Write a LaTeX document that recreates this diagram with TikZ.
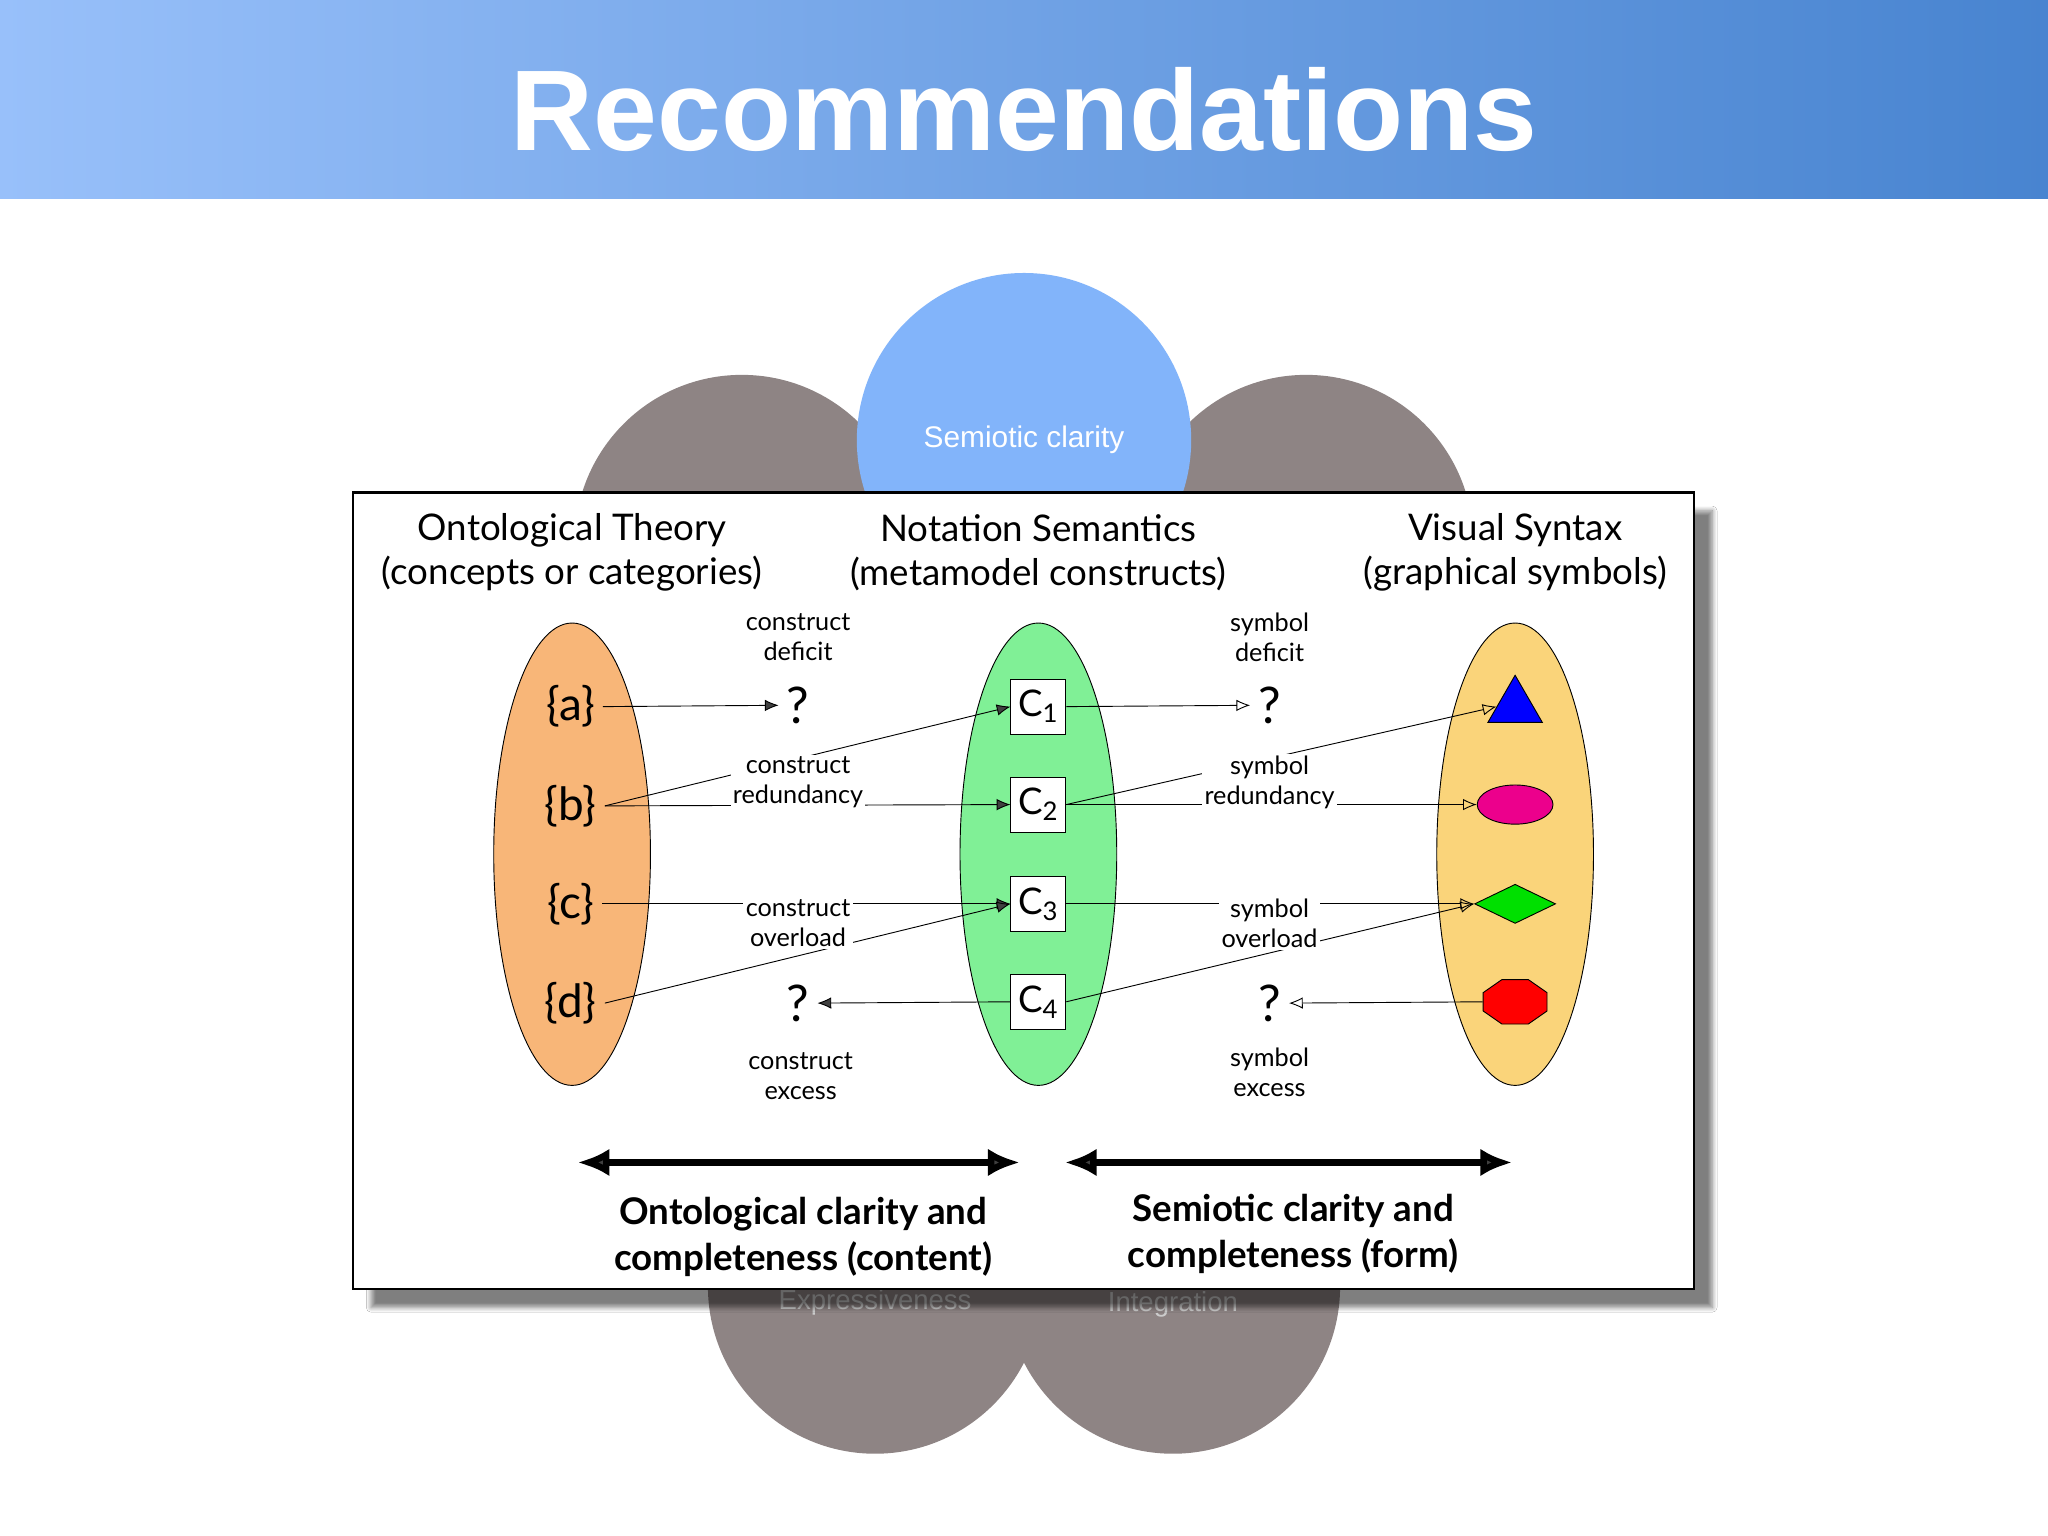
\documentclass[tikz,border=0pt]{standalone}
\usepackage{fontspec}
\setmainfont{Lato}
\newfontfamily\arialf{Liberation Sans}
\usetikzlibrary{shapes.geometric,arrows.meta,shadows.blur}
\definecolor{hdrL}{RGB}{152,192,250}
\definecolor{hdrR}{RGB}{72,132,208}
\definecolor{petal}{RGB}{142,132,132}
\definecolor{bluec}{RGB}{130,180,250}
\definecolor{orangeE}{RGB}{248,182,120}
\definecolor{greenE}{RGB}{128,240,150}
\definecolor{yellowE}{RGB}{250,212,122}
\tikzset{
 lbl/.style={fill=white,inner sep=1pt,font=\fontsize{11}{13}\selectfont,align=center},
 hdr/.style={font=\fontsize{16}{19}\selectfont,align=center},
 setl/.style={font=\fontsize{20}{22}\selectfont},
 cbox/.style={draw,fill=white,minimum size=42*0.02cm,inner sep=0pt,font=\fontsize{16}{18}\selectfont},
 qm/.style={font=\fontsize{22}{24}\selectfont},
 ell/.style={draw,ellipse,minimum width=120*0.02cm,minimum height=354*0.02cm},
 fa/.style={-{Latex[length=6pt,width=5pt]},thin},
 oa/.style={-{Latex[open,length=6pt,width=5pt]},thin},
 pl/.style={thin},
 petalc/.style={fill=petal},
 big/.style={{Latex[length=14pt,width=12pt]}-{Latex[length=14pt,width=12pt]},line width=3pt},
}
\begin{document}
\begin{tikzpicture}[x=0.02cm,y=-0.02cm]
\useasboundingbox (0,0) rectangle (1568,1176);
\fill[white] (0,0) rectangle (1568,1176);
\shade[left color=hdrL,right color=hdrR] (0,0) rectangle (1568,152);
\node[text=white,font=\arialf\bfseries\fontsize{50}{54}\selectfont] (title) at (784,84) {Recommendations};
% petals
\fill[petalc] (568,415) circle (128);
\fill[petalc] (1000,415) circle (128);
\fill[bluec] (784,337) circle (128);
\fill[petalc] (670,985) circle (128);
\fill[petalc] (898,985) circle (128);
\node[text=white,font=\arialf\fontsize{13}{15}\selectfont] (sc) at (784,337) {Semiotic clarity};
\node[text=gray!40,font=\arialf\fontsize{12}{14}\selectfont] (ex) at (670,997) {Expressiveness};
\node[text=gray!40,font=\arialf\fontsize{12}{14}\selectfont] (in) at (898,999) {Integration};
% box
\draw[fill=white,line width=1pt,blur shadow={shadow xshift=8pt,shadow yshift=-8pt,shadow blur steps=8,shadow opacity=50}] (270,377) rectangle (1297,987);
\node[hdr] (h1) at (438,423) {Ontological Theory\\(concepts or categories)};
\node[hdr] (h2) at (795,423) {Notation Semantics\\(metamodel constructs)};
\node[hdr] (h3) at (1160,423) {Visual Syntax\\(graphical symbols)};
% ellipses
\node[ell,fill=orangeE] (E1) at (438,654) {};
\node[ell,fill=greenE] (E2) at (795,654) {};
\node[ell,fill=yellowE] (E3) at (1160,654) {};
\node[setl] (a) at (437,541) {\{a\}};
\node[setl] (b) at (437,617) {\{b\}};
\node[setl] (c) at (437,692) {\{c\}};
\node[setl] (d) at (437,768) {\{d\}};
\node[cbox] (C1) at (795,541) {C\textsubscript{1}};
\node[cbox] (C2) at (795,616) {C\textsubscript{2}};
\node[cbox] (C3) at (795,692) {C\textsubscript{3}};
\node[cbox] (C4) at (795,767) {C\textsubscript{4}};
\node[isosceles triangle,shape border rotate=90,isosceles triangle apex angle=60,fill=blue,draw,minimum height=36*0.02cm,inner sep=0pt] (S1) at (1160,541) {};
\node[ellipse,fill=magenta,draw,minimum width=58*0.02cm,minimum height=30*0.02cm] (S2) at (1160,616) {};
\node[diamond,fill=green!80!black!60!green,draw,minimum width=62*0.02cm,minimum height=30*0.02cm,inner sep=0pt,aspect=2] (S3) at (1160,692) {};
\node[regular polygon,regular polygon sides=8,fill=red,draw,minimum size=46*0.02cm,inner sep=0pt,xscale=1.15,yscale=0.8] (S4) at (1160,767) {};
\node[qm] (q1) at (611,540) {?};
\node[qm] (q2) at (972,540) {?};
\node[qm] (q3) at (611,768) {?};
\node[qm] (q4) at (972,768) {?};
% connectors
\draw[fa] (a.east) -- (q1.west);
\draw[fa] (b.east) -- (C1.west);
\draw[fa] (b.east) -- (C2.west);
\draw[fa] (c.east) -- (C3.west);
\draw[fa] (d.east) -- (C3.west);
\draw[fa] (C4.west) -- (q3.east);
\draw[oa] (C1.east) -- (q2.west);
\draw[oa] (C2.east) -- (S1.west);
\draw[oa] (C2.east) -- (S2.west);
\draw[oa] (C3.east) -- (S3.west);
\draw[oa] (C4.east) -- (S3.west);
\draw[oa] (S4.west) -- (q4.east);
% labels
\node[lbl] (l1) at (611,488) {construct\\deficit};
\node[lbl] (l2) at (611,599) {construct\\redundancy};
\node[lbl] (l3) at (611,707) {construct\\overload};
\node[lbl] (l4) at (613,824) {construct\\excess};
\node[lbl] (l5) at (972,488) {symbol\\deficit};
\node[lbl] (l6) at (972,599) {symbol\\redundancy};
\node[lbl] (l7) at (972,707) {symbol\\overload};
\node[lbl] (l8) at (972,821) {symbol\\excess};
% bottom
\coordinate (b1) at (442,890); \coordinate (b2) at (781,890);
\coordinate (b3) at (815,890); \coordinate (b4) at (1158,890);
\draw[big] (b1) -- (b2);
\draw[big] (b3) -- (b4);
\node[font=\bfseries\fontsize{16}{20}\selectfont,align=center] (t1) at (615,947) {Ontological clarity and\\completeness (content)};
\node[font=\bfseries\fontsize{16}{20}\selectfont,align=center] (t2) at (990,945) {Semiotic clarity and\\completeness (form)};
\end{tikzpicture}
\end{document}
